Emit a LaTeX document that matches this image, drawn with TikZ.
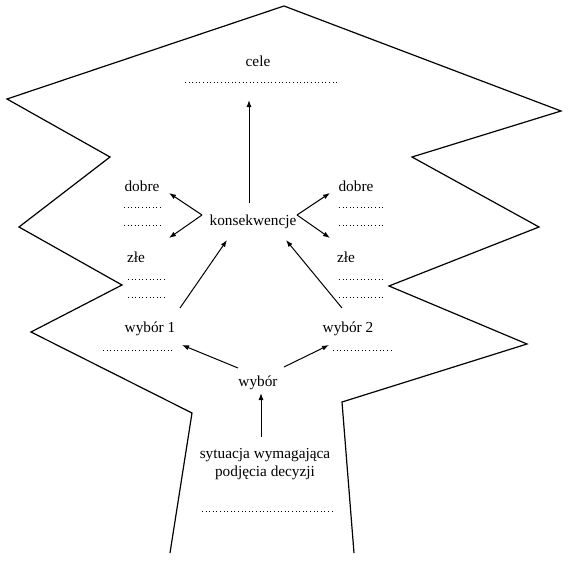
\documentclass[tikz,border=0pt]{standalone}
\usepackage{fontspec}
\setmainfont{Liberation Serif}
\usetikzlibrary{arrows.meta}
\begin{document}
\begin{tikzpicture}[x=1pt,y=-1pt,
  outline/.style={line width=1.2pt,line join=miter},
  arr/.style={line width=1pt,-{Latex[length=7pt,width=5pt]}},
  lbl/.style={inner sep=0pt,font=\fontsize{15.3}{18}\selectfont},
  fill line/.style={line width=1pt,dash pattern=on 1pt off 2.6pt}]
\useasboundingbox (0,0) rectangle (568,568);
% outline
\draw[outline] (170,553) -- (192,413) -- (31,332) -- (122,285) -- (19,227)
  -- (110,157) -- (7,99) -- (284,6) -- (561,111) -- (412,157) -- (539,227)
  -- (389,286) -- (527,344) -- (342,402) -- (354,553);
% labels
\node[lbl] (cele) at (258,61) {cele};
\node[lbl] (kons) at (253,222) {konsekwencje};
\node[lbl] (dobreL) at (142,186) {dobre};
\node[lbl] (dobreR) at (356,186) {dobre};
\node[lbl] (zleL) at (136,257) {złe};
\node[lbl] (zleR) at (346,257) {złe};
\node[lbl] (w1) at (150,329) {wybór 1};
\node[lbl] (w2) at (348,329) {wybór 2};
\node[lbl] (wybor) at (258,383) {wybór};
\node[lbl,align=center] (syt) at (265,464) {sytuacja wymagająca\\podjęcia decyzji};
% fill-in lines
\draw[fill line] (185,82) -- (338,82);
\draw[fill line] (124,207) -- (162,207);
\draw[fill line] (124,225) -- (162,225);
\draw[fill line] (339,207) -- (384,207);
\draw[fill line] (339,225) -- (384,225);
\draw[fill line] (128,279) -- (165,279);
\draw[fill line] (128,297) -- (165,297);
\draw[fill line] (339,279) -- (383,279);
\draw[fill line] (339,297) -- (383,297);
\draw[fill line] (103,350) -- (174,350);
\draw[fill line] (333,350) -- (394,350);
\draw[fill line] (202,511) -- (335,511);
% connector end points
\coordinate (kUp0) at (249,203);
\coordinate (kUp1) at (249,100);
\coordinate (kL) at (202,215);
\coordinate (kR) at (297,215);
\coordinate (dLt) at (169,193);
\coordinate (zLt) at (169,238);
\coordinate (dRt) at (330,193);
\coordinate (zRt) at (330,238);
\coordinate (w1t) at (180,308);
\coordinate (w2t) at (342,308);
\coordinate (k1) at (227,240);
\coordinate (k2) at (286,240);
\coordinate (wL) at (238,368);
\coordinate (wR) at (284,367);
\coordinate (w1a) at (182,345);
\coordinate (w2a) at (329,345);
\coordinate (s0) at (261,437);
\coordinate (s1) at (261,393);
% connectors
\draw[arr] (kUp0) -- (kUp1);
\draw[arr] (kL) -- (dLt);
\draw[arr] (kL) -- (zLt);
\draw[arr] (kR) -- (dRt);
\draw[arr] (kR) -- (zRt);
\draw[arr] (w1t) -- (k1);
\draw[arr] (w2t) -- (k2);
\draw[arr] (wL) -- (w1a);
\draw[arr] (wR) -- (w2a);
\draw[arr] (s0) -- (s1);
\end{tikzpicture}
\end{document}
